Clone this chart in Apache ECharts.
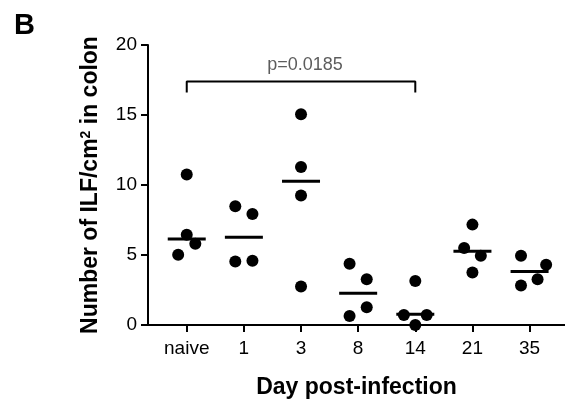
<!DOCTYPE html>
<html>
<head>
<meta charset="utf-8">
<script src="https://cdn.jsdelivr.net/npm/echarts@6/dist/echarts.min.js"></script>
<style>
html,body{margin:0;padding:0;background:#fff;}
#chart{width:565px;height:405px;}
</style>
</head>
<body>
<div id="chart"></div>
<script>
// ---- data ----
const categories = ['naive', '1', '3', '8', '14', '21', '35'];
const groupValues = [
  [10.75, 6.45, 5.80, 5.02],
  [8.48, 7.93, 4.59, 4.54],
  [15.05, 11.28, 9.25, 2.75],
  [4.37, 3.27, 1.27, 0.65],
  [3.15, 0.72, 0.72, 0.00],
  [7.17, 5.50, 4.95, 3.75],
  [4.95, 4.30, 3.27, 2.82]
];
const groupJitter = [
  [0, 0, 0.15, -0.15],
  [-0.15, 0.15, 0.15, -0.15],
  [0, 0, 0, 0],
  [-0.15, 0.15, 0.15, -0.15],
  [0, -0.2, 0.2, 0],
  [0, -0.145, 0.147, 0],
  [-0.15, 0.29, 0.14, -0.15]
];
const medians = [6.14, 6.26, 10.27, 2.27, 0.77, 5.26, 3.82];
const yTicks = [0, 5, 10, 15, 20];
const bracketFrom = 0, bracketTo = 4;
const bracketTop = 17.4, bracketLeg = 16.6;
const pLabel = 'p=0.0185';

// ---- build ----
const points = [];
groupValues.forEach((vals, i) => vals.forEach((v, j) => points.push([i + groupJitter[i][j], v])));
const medianData = medians.map((m, i) => [i, m]);
const bracketData = [[bracketFrom, bracketLeg], [bracketFrom, bracketTop], [bracketTo, bracketTop], [bracketTo, bracketLeg]];
const catIdx = categories.map((c, i) => i);

const FONT = 'Liberation Sans, Arial, sans-serif';
const chart = echarts.init(document.getElementById('chart'), null, {renderer: 'canvas'});
chart.setOption({
  animation: false,
  backgroundColor: '#fff',
  title: {
    text: 'B', left: 9, top: 6,
    textStyle: {fontFamily: FONT, fontSize: 29, fontWeight: 'bold', color: '#000'}
  },
  grid: {left: 148, right: 0, top: 45, bottom: 80},
  xAxis: {
    type: 'value', min: -0.678, max: 6.62,
    name: 'Day post-infection', nameLocation: 'middle', nameGap: 51,
    nameTextStyle: {fontFamily: FONT, fontSize: 23, fontWeight: 'bold', color: '#000'},
    splitLine: {show: false},
    axisLine: {onZero: false, lineStyle: {color: '#000', width: 2}},
    axisTick: {show: true, customValues: catIdx, length: 7, lineStyle: {color: '#000', width: 2}},
    axisLabel: {
      customValues: catIdx, margin: 14,
      formatter: v => categories[Math.round(v)],
      fontFamily: FONT, fontSize: 19, color: '#000'
    }
  },
  yAxis: {
    type: 'value', min: 0, max: 20, interval: 5,
    name: 'Number of ILF/cm{sup|2} in colon', nameLocation: 'middle', nameGap: 45,
    nameTextStyle: {
      fontFamily: FONT, fontSize: 23, fontWeight: 'bold', color: '#000',
      rich: {sup: {fontFamily: FONT, fontSize: 14, fontWeight: 'bold', color: '#000', verticalAlign: 'top', padding: [0, 0, 10, 0]}}
    },
    splitLine: {show: false},
    axisLine: {show: true, onZero: false, lineStyle: {color: '#000', width: 2}},
    axisTick: {show: true, length: 7, lineStyle: {color: '#000', width: 2}},
    axisLabel: {margin: 11, fontFamily: FONT, fontSize: 19, color: '#000',
      formatter: v => yTicks.includes(v) ? String(v) : ''}
  },
  series: [
    {
      type: 'scatter', data: points, symbol: 'circle', symbolSize: 12, clip: false,
      itemStyle: {color: '#000', opacity: 1}, z: 3
    },
    {
      type: 'scatter', data: medianData, symbol: 'rect', symbolSize: [38, 3], clip: false,
      itemStyle: {color: '#000', opacity: 1}, z: 4
    },
    {
      type: 'line', data: bracketData, symbol: 'none', clip: false,
      lineStyle: {color: '#000', width: 2}, z: 2
    },
    {
      type: 'scatter', data: [[(bracketFrom + bracketTo) / 2 + 0.07, bracketTop]], symbolSize: 0,
      label: {show: true, position: 'top', distance: 7, formatter: pLabel,
        fontFamily: FONT, fontSize: 18, color: '#333'},
      z: 5
    }
  ]
});
</script>
</body>
</html>
